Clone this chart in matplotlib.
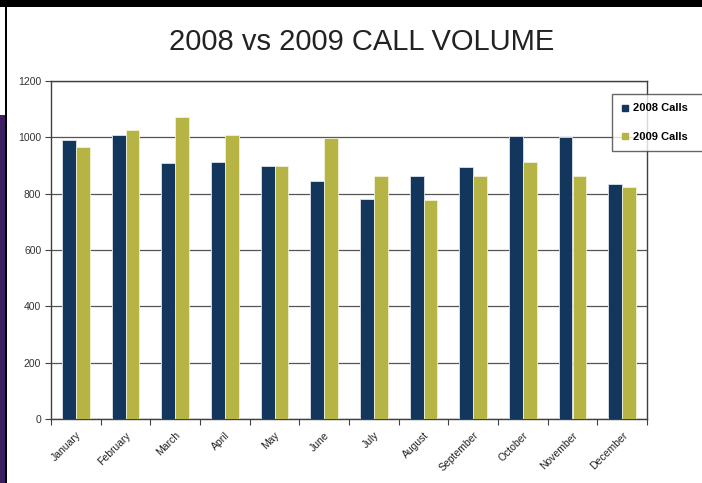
import matplotlib
matplotlib.use("Agg")
import matplotlib.pyplot as plt
from matplotlib.lines import Line2D
from matplotlib.patches import Rectangle
import numpy as np

months = ["January", "February", "March", "April", "May", "June", "July",
          "August", "September", "October", "November", "December"]
calls_2008 = [991, 1010, 909, 914, 897, 844, 782, 864, 896, 1005, 1002, 834]
calls_2009 = [965, 1027, 1071, 1008, 897, 999, 862, 777, 862, 912, 861, 822]
series_names = ["2008 Calls", "2009 Calls"]
title = "2008 vs 2009 CALL VOLUME"
yticks = [0, 200, 400, 600, 800, 1000, 1200]

navy = "#12365c"
gold = "#b5b444"

plt.rcParams["font.family"] = ["Liberation Sans", "DejaVu Sans"]

W, H = 702, 483
fig = plt.figure(figsize=(W / 100, H / 100), dpi=100)
fig.patch.set_facecolor("white")

# slide frame decorations
fig.add_artist(Rectangle((0, 1 - 7 / H), 1, 7 / H, transform=fig.transFigure,
                         facecolor="black", edgecolor="none"))
fig.add_artist(Rectangle((4.5 / W, 0), 2.5 / W, 1, transform=fig.transFigure,
                         facecolor="black", edgecolor="none"))
fig.add_artist(Rectangle((0, 0), 4.5 / W, 1 - 115 / H, transform=fig.transFigure,
                         facecolor="#3b1f5e", edgecolor="none"))

ax = fig.add_axes([51 / W, (H - 419) / H, 596 / W, 338 / H])
x = np.arange(len(months))
bw = 0.28
ax.bar(x - bw / 2, calls_2008, bw, color=navy, edgecolor="#dfe3ea", linewidth=0.6,
       label=series_names[0], zorder=3)
ax.bar(x + bw / 2, calls_2009, bw, color=gold, edgecolor="#f0f0d8", linewidth=0.6,
       label=series_names[1], zorder=3)

ax.set_xlim(-0.5, len(months) - 0.5)
ax.set_ylim(0, 1200)
ax.set_yticks(yticks)
ax.set_yticklabels([str(v) for v in yticks], fontsize=7.5, color="#333333")
ax.yaxis.grid(True, color="#555555", linewidth=0.9, zorder=0)
ax.set_axisbelow(True)
ax.tick_params(axis="y", direction="out", length=4, width=0.8, color="#404040", pad=3)

ax.set_xticks(x)
ax.set_xticklabels(months, rotation=45, ha="right", rotation_mode="anchor",
                   fontsize=7.5, color="#222222")
ax.tick_params(axis="x", which="major", length=0, pad=8)
ax.set_xticks(np.arange(len(months) + 1) - 0.5, minor=True)
ax.tick_params(axis="x", which="minor", direction="out", length=4, width=0.8, color="#404040")

for s in ax.spines.values():
    s.set_color("#404040")
    s.set_linewidth(1.0)

fig.text(362 / W, 1 - 42 / H, title, ha="center", va="center", fontsize=21,
         color="#222222")

handles = [Line2D([], [], marker="s", linestyle="none", markersize=4.5, color=navy),
           Line2D([], [], marker="s", linestyle="none", markersize=4.5, color=gold)]
leg = fig.legend(handles, series_names, loc="upper left",
                 bbox_to_anchor=(612 / W, 1 - 94 / H - 0.01, 120 / W, 0.01), mode="expand",
                 frameon=True, fancybox=False, edgecolor="#404040",
                 prop={"weight": "bold", "size": 8}, handlelength=0.7,
                 handletextpad=0.3, labelspacing=1.65, borderpad=0.85,
                 borderaxespad=0)
leg.get_frame().set_linewidth(1.0)

fig.savefig("out.png", dpi=100, facecolor="white")
